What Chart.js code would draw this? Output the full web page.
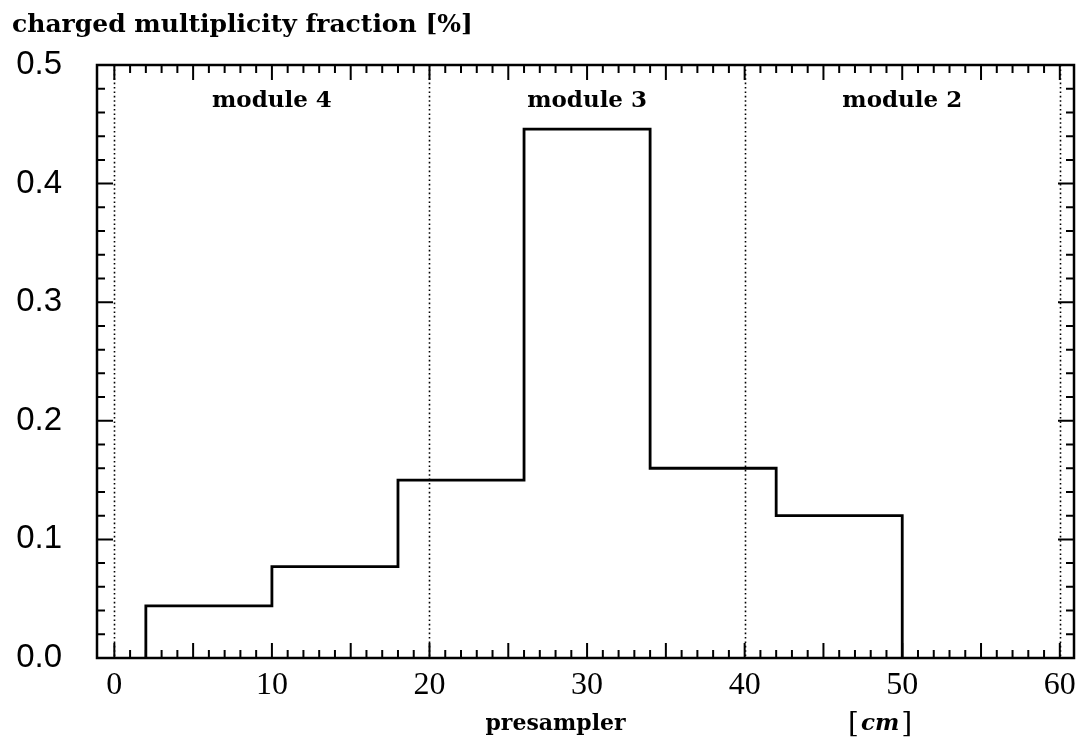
<!DOCTYPE html>
<html>
<head>
<meta charset="utf-8">
<script src="https://cdn.jsdelivr.net/npm/chart.js@4.4.0/dist/chart.umd.min.js"></script>
<style>
  html, body { margin: 0; padding: 0; background: #fff; }
  canvas { display: block; }
</style>
</head>
<body>
<canvas id="histChart" width="1080" height="743"></canvas>
<script>
// histogram bin edges along the presampler [cm]
const binEdges = [2, 10, 18, 26, 34, 42, 50];
// charged multiplicity fraction [%] for each bin
const fractions = [0.044, 0.077, 0.15, 0.446, 0.16, 0.12];

// module boundaries (dotted lines) and module labels
const moduleEdges = [0, 20, 40, 60];
const moduleNames = ['module 4', 'module 3', 'module 2'];
const moduleCenters = [10, 30, 50];

// tick labels
const xTicks = [0, 10, 20, 30, 40, 50, 60];
const yTicks = [0, 0.1, 0.2, 0.3, 0.4, 0.5];

// build the step outline from the bins
const outline = [{ x: binEdges[0], y: 0 }];
fractions.forEach((f, i) => {
  outline.push({ x: binEdges[i], y: f });
  outline.push({ x: binEdges[i + 1], y: f });
});
outline.push({ x: binEdges[binEdges.length - 1], y: 0 });

const SERIF = '"DejaVu Serif", "Liberation Serif", serif';

// frame, inward ticks, dotted module lines and the texts
const framePlugin = {
  id: 'frame',
  beforeDatasetsDraw(chart) {
    const { ctx, chartArea: a, scales: { x } } = chart;
    ctx.save();
    ctx.strokeStyle = '#000';
    ctx.lineWidth = 1.6;
    ctx.setLineDash([1.6, 2.8]);
    moduleEdges.forEach(v => {
      const px = Math.round(x.getPixelForValue(v)) + 0.5;
      ctx.beginPath();
      ctx.moveTo(px, a.top);
      ctx.lineTo(px, a.bottom);
      ctx.stroke();
    });
    ctx.restore();
  },
  afterDatasetsDraw(chart) {
    const { ctx, chartArea: a, scales: { x, y } } = chart;
    ctx.save();
    ctx.strokeStyle = '#000';
    ctx.lineWidth = 2;
    ctx.beginPath();
    // x ticks every 1 cm, longer every 5
    for (let v = 0; v <= 60; v++) {
      const px = x.getPixelForValue(v);
      const len = v % 5 === 0 ? 15 : 8;
      ctx.moveTo(px, a.bottom); ctx.lineTo(px, a.bottom - len);
      ctx.moveTo(px, a.top); ctx.lineTo(px, a.top + len);
    }
    // y ticks every 0.02, longer every 0.1
    for (let i = 0; i <= 25; i++) {
      const py = y.getPixelForValue(i * 0.02);
      const len = i % 5 === 0 ? 16 : 8;
      ctx.moveTo(a.left, py); ctx.lineTo(a.left + len, py);
      ctx.moveTo(a.right, py); ctx.lineTo(a.right - len, py);
    }
    ctx.stroke();
    ctx.lineWidth = 2.5;
    ctx.strokeRect(a.left, a.top, a.right - a.left, a.bottom - a.top);

    ctx.fillStyle = '#000';
    ctx.textBaseline = 'alphabetic';
    // module labels
    ctx.font = 'bold 23px ' + SERIF;
    ctx.textAlign = 'center';
    moduleNames.forEach((name, i) => {
      ctx.fillText(name, x.getPixelForValue(moduleCenters[i]), 107);
    });
    // title
    ctx.textAlign = 'left';
    ctx.font = 'bold 25px ' + SERIF;
    ctx.fillText('charged multiplicity fraction [%]', 12, 32);
    // axis label
    ctx.textAlign = 'center';
    ctx.font = 'bold 22px ' + SERIF;
    ctx.fillText('presampler', x.getPixelForValue(28), 730);
    // [cm]
    const cx = x.getPixelForValue(48.6);
    ctx.textAlign = 'left';
    ctx.font = '28px ' + SERIF;
    const wb = ctx.measureText('[').width;
    ctx.font = 'italic bold 23px ' + SERIF;
    const wc = ctx.measureText('cm').width;
    const total = wb * 2 + wc + 4;
    const sx = cx - total / 2;
    ctx.font = '28px ' + SERIF;
    ctx.fillText('[', sx, 732);
    ctx.font = 'italic bold 23px ' + SERIF;
    ctx.fillText('cm', sx + wb + 2, 730);
    ctx.font = '28px ' + SERIF;
    ctx.fillText(']', sx + wb + wc + 4, 732);
    ctx.restore();
  }
};

const ctx = document.getElementById('histChart').getContext('2d');
const chart = new Chart(ctx, {
  type: 'line',
  data: {
    datasets: [{
      data: outline,
      borderColor: '#000',
      borderWidth: 2.8,
      pointRadius: 0,
      fill: false,
      tension: 0
    }]
  },
  options: {
    responsive: false,
    animation: false,
    layout: { padding: { top: 65, left: 10, right: 6, bottom: 0 } },
    plugins: {
      legend: { display: false },
      tooltip: { enabled: false }
    },
    scales: {
      x: {
        type: 'linear',
        min: -1.1,
        max: 60.9,
        grid: { display: false, drawTicks: false },
        border: { display: false },
        afterBuildTicks: s => { s.ticks = xTicks.map(v => ({ value: v })); },
        afterFit: s => { s.height = 85; s.paddingLeft = 0; s.paddingRight = 0; },
        ticks: {
          padding: 8,
          color: '#000',
          autoSkip: false,
          maxRotation: 0,
          font: { family: '"Liberation Serif", serif', size: 32 }
        }
      },
      y: {
        min: 0,
        max: 0.5,
        grid: { display: false, drawTicks: false },
        border: { display: false },
        afterBuildTicks: s => { s.ticks = yTicks.map(v => ({ value: v })); },
        afterFit: s => { s.width = 87; },
        ticks: {
          padding: 35,
          color: '#000',
          font: { family: '"Liberation Sans", sans-serif', size: 33 },
          callback: v => v.toFixed(1)
        }
      }
    }
  },
  plugins: [framePlugin]
});
</script>
</body>
</html>
